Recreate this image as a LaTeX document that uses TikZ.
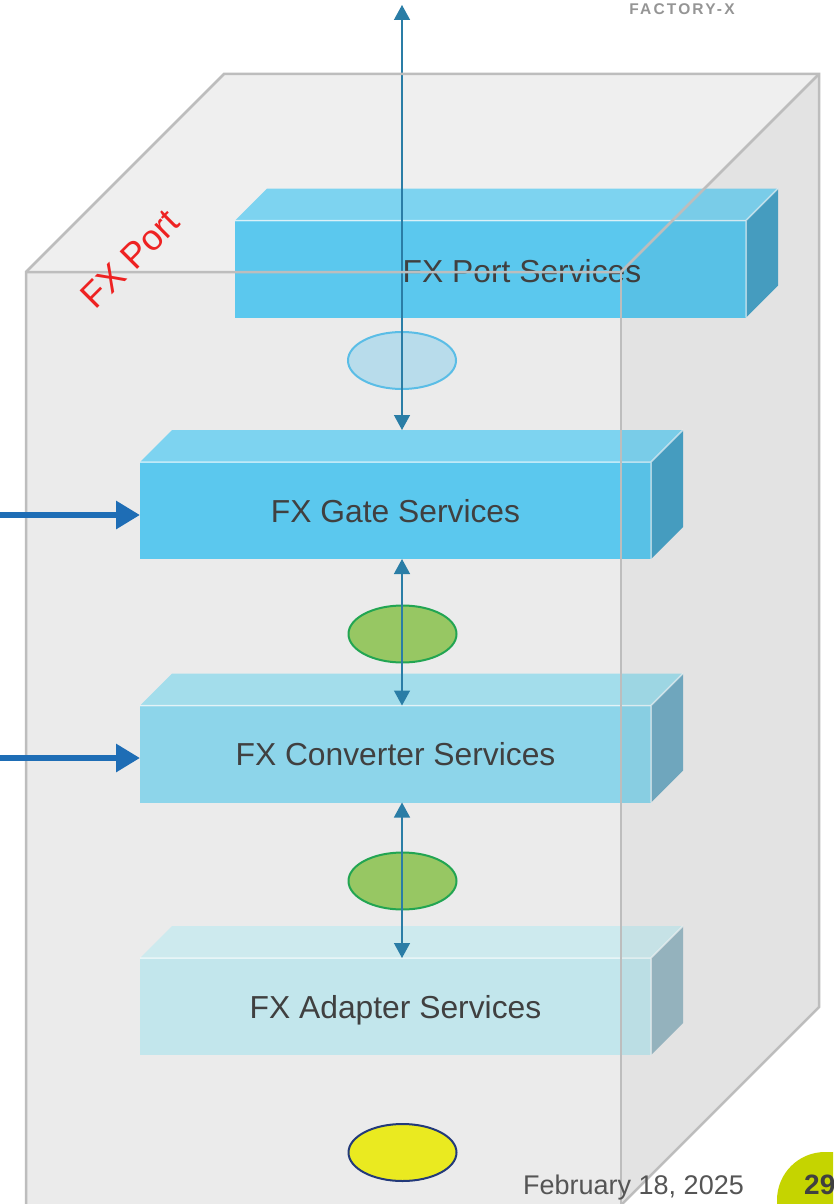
\documentclass[tikz,border=0pt]{standalone}
\usepackage{fontspec}
\setmainfont{Liberation Sans}
\usetikzlibrary{arrows.meta,shapes.geometric}

% palette
\definecolor{cubefront}{HTML}{EBEBEB}
\definecolor{cubetop}{HTML}{EFEFEF}
\definecolor{cubeline}{HTML}{BDBDBD}
\definecolor{textgrey}{HTML}{404040}
\definecolor{dategrey}{HTML}{555555}
\definecolor{brandgrey}{HTML}{959595}
\definecolor{portred}{HTML}{EE2222}
\definecolor{pagegreen}{HTML}{C5D400}
\definecolor{linkblue}{HTML}{2A7DA6}
\definecolor{feedblue}{HTML}{1E6DB5}
% layer colours: front / top / side
\definecolor{skyfront}{HTML}{5BC8EE}
\definecolor{skytop}{HTML}{7DD3F0}
\definecolor{skyside}{HTML}{48A2C6}
\definecolor{midfront}{HTML}{8DD5EA}
\definecolor{midtop}{HTML}{A3DDEB}
\definecolor{midside}{HTML}{73ACC4}
\definecolor{palefront}{HTML}{C2E6EC}
\definecolor{paletop}{HTML}{CDEAEE}
\definecolor{paleside}{HTML}{99B8C4}
% tokens
\definecolor{tokblue}{HTML}{B8DCEB}
\definecolor{tokblueline}{HTML}{5ABDE6}
\definecolor{tokgreen}{HTML}{97C763}
\definecolor{tokgreenline}{HTML}{22A552}
\definecolor{tokyellow}{HTML}{EAEA20}
\definecolor{tokyellowline}{HTML}{233A7A}

\tikzset{
  slabface/.style={rectangle, minimum width=511pt, minimum height=97pt,
    inner sep=0pt, outer sep=0pt},
  slabtext/.style={text=textgrey, font=\fontsize{31.8}{38}\selectfont,
    text height=23pt, text depth=0pt},
  slabedge/.style={draw=white, draw opacity=0.6, line width=1.5pt, line join=round},
  cubeedge/.style={draw=cubeline, line width=2.5pt, line join=miter},
  layerlink/.style={draw=linkblue, line width=1.4pt,
    {Triangle[length=15pt,width=16pt]}-{Triangle[length=15pt,width=16pt]}},
  feed/.style={draw=feedblue, line width=6.5pt, -{Triangle[length=24pt,width=27pt]}},
  token/.style={ellipse, minimum width=108pt, minimum height=57pt,
    line width=2pt, inner sep=0pt},
}

% one 3-D layer slab: name, x, y, front, top, side, text
\newcommand\drawslab[7]{%
  \node[slabface, fill=#4, slabtext] (#1) at (#2,#3) {#7};
  \fill[#5] (#1.north west) -- ++(32,-32) -- ++(511,0) -- (#1.north east) -- cycle;
  \fill[#6] (#1.north east) -- ++(32,-32) -- ++(0,97) -- (#1.south east) -- cycle;
  \draw[slabedge] (#1.north west) -- (#1.north east) -- (#1.south east)
    (#1.north east) -- ++(32,-32);
}

\begin{document}
\begin{tikzpicture}[x=1pt,y=-1pt]
\clip (0,0) rectangle (833,1204);
\fill[white] (0,0) rectangle (833,1204);

% housing cube faces
\fill[cubefront] (26,272) rectangle (621,1210);
\fill[cubetop] (26,272) -- (224,74) -- (819,74) -- (621,272) -- cycle;
\fill[cubefront] (621,272) -- (819,74) -- (819,1007) -- (621,1205) -- cycle;

% service layers
\drawslab{port}{490.5}{269}{skyfront}{skytop}{skyside}{}
\drawslab{gate}{395.5}{510.5}{skyfront}{skytop}{skyside}{FX Gate Services}
\drawslab{conv}{395.5}{754}{midfront}{midtop}{midside}{FX Converter Services}
\drawslab{adapt}{395.5}{1006.5}{palefront}{paletop}{paleside}{FX Adapter Services}
\node[slabtext] (portlabel) at (522,271) {FX Port Services};

% shading of the cube's side wall
\fill[black, fill opacity=0.03] (621,272) -- (819,74) -- (819,1007) -- (621,1205) -- cycle;

% interface tokens
\node[token, fill=tokblue, draw=tokblueline] (tok1) at (402,360.5) {};
\node[token, fill=tokgreen, draw=tokgreenline] (tok2) at (402.5,634) {};
\node[token, fill=tokgreen, draw=tokgreenline] (tok3) at (402.5,881) {};
\node[token, fill=tokyellow, draw=tokyellowline] (tok4) at (402.5,1152.5) {};

% links between layers
\coordinate (sky) at (402,5);
\path (gate.north) ++(6.5,-32) coordinate (gateback);
\draw[layerlink] (sky) -- (gateback);
\draw[layerlink] (gate.south -| sky) -- (conv.north -| sky);
\draw[layerlink] (conv.south -| sky) -- (adapt.north -| sky);

% housing cube edges
\draw[cubeedge] (26,1210) -- (26,272) -- (224,74) -- (819,74) -- (819,1007) -- (621,1205);
\draw[cubeedge] (26,272) -- (621,272) -- (819,74);
\draw[cubeedge] (621,272) -- (621,1210);

% external feeds
\coordinate (feedA) at (0,515);
\coordinate (feedB) at (0,758);
\draw[feed] (feedA) -- (feedA -| gate.west);
\draw[feed] (feedB) -- (feedB -| conv.west);

% labels
\node[rotate=45, text=portred, font=\fontsize{36}{42}\selectfont] (portname) at (130,259) {FX Port};
\node[text=brandgrey, font=\fontsize{15.5}{18}\selectfont\bfseries\addfontfeature{LetterSpace=14}] (brand) at (682,9) {FACTORY-X};
\node[anchor=base west, text=dategrey, font=\fontsize{27}{32}\selectfont, inner sep=0pt] (date) at (523,1194) {February 18, 2025};
\fill[pagegreen, rounded corners=48pt] (777,1152) rectangle (920,1280);
\node[anchor=base west, text=textgrey, font=\bfseries\fontsize{28}{32}\selectfont, inner sep=0pt] (page) at (804,1194) {29};
\end{tikzpicture}
\end{document}
